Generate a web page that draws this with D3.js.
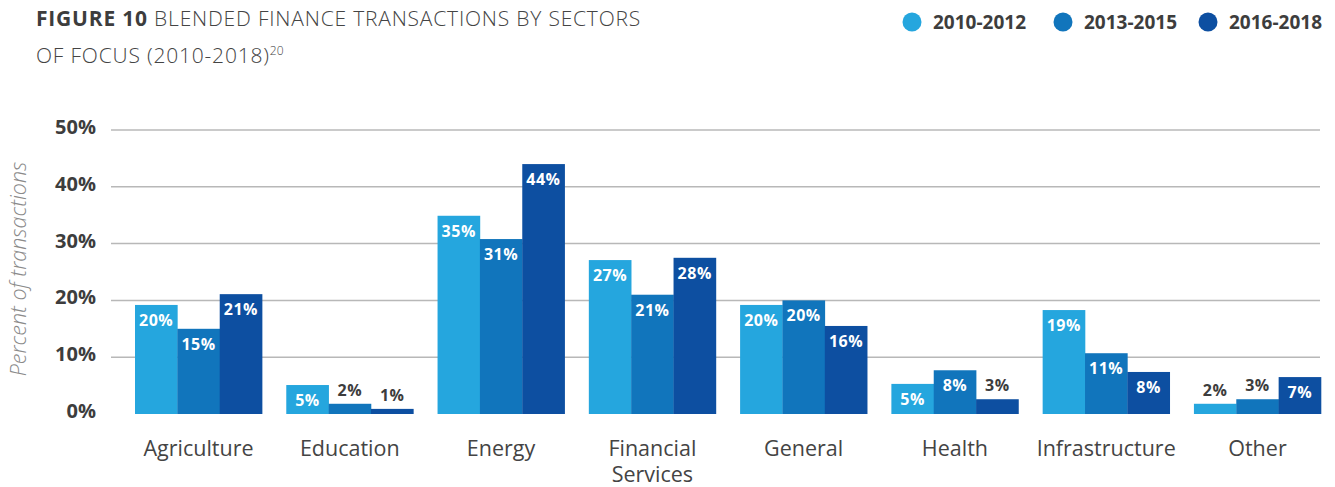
<!DOCTYPE html>
<html>
<head>
<meta charset="utf-8">
<script src="https://cdn.jsdelivr.net/npm/d3@7"></script>
<style>
  body { margin: 0; background: #fff; }
  svg { font-family: 'Open Sans', sans-serif; display: block; }
</style>
</head>
<body>
<svg id="chart" width="1335" height="487"></svg>
<script>
// Data
const sectors = ['Agriculture', 'Education', 'Energy', 'Financial Services', 'General', 'Health', 'Infrastructure', 'Other'];
const periods = ['2010-2012', '2013-2015', '2016-2018'];
const values2010 = [19.2, 5.1, 34.9, 27.1, 19.2, 5.3, 18.3, 1.8];
const values2013 = [15.0, 1.8, 30.8, 21.0, 20.0, 7.7, 10.7, 2.6];
const values2016 = [21.1, 0.9, 44.0, 27.5, 15.5, 2.6, 7.4, 6.5];
const labels2010 = ['20%', '5%', '35%', '27%', '20%', '5%', '19%', '2%'];
const labels2013 = ['15%', '2%', '31%', '21%', '20%', '8%', '11%', '3%'];
const labels2016 = ['21%', '1%', '44%', '28%', '16%', '3%', '8%', '7%'];
const yTicks = [0, 10, 20, 30, 40, 50];
const colors = ['#25a6de', '#1175bc', '#0d4fa1'];

const seriesValues = [values2010, values2013, values2016];
const seriesLabels = [labels2010, labels2013, labels2016];

const svg = d3.select('#chart');

// Scales
const x0 = d3.scaleBand().domain(sectors).range([135, 1321]).paddingInner(0.16).paddingOuter(0);
const x1 = d3.scaleBand().domain(periods).range([0, x0.bandwidth()]).padding(0);
const y = d3.scaleLinear().domain([0, 50]).range([414, 130]);
const color = d3.scaleOrdinal().domain(periods).range(colors);

// Title
const title = svg.append('text').attr('x', 36).attr('y', 26)
  .attr('font-size', 21).attr('letter-spacing', 0.8).attr('fill', '#444');
title.append('tspan').attr('font-weight', 700).attr('fill', '#3d3d3d').text('FIGURE 10');
title.append('tspan').attr('font-weight', 300).text(' BLENDED FINANCE TRANSACTIONS BY SECTORS');
const title2 = svg.append('text').attr('x', 36).attr('y', 63)
  .attr('font-size', 21).attr('letter-spacing', 0.8).attr('font-weight', 300).attr('fill', '#444');
title2.append('tspan').text('OF FOCUS (2010-2018)');
title2.append('tspan').attr('font-size', 12).attr('letter-spacing', 0).attr('dy', -8).text('20');

// Legend
const legendX = [912, 1063, 1208];
const legend = svg.append('g').selectAll('g').data(periods).join('g')
  .attr('transform', (d, i) => `translate(${legendX[i]},22)`);
legend.append('circle').attr('r', 9.5).attr('fill', d => color(d));
legend.append('text').attr('x', 21).attr('y', 7)
  .attr('font-size', 19).attr('font-weight', 700).attr('fill', '#3d3d3d')
  .text(d => d);

// Gridlines
svg.append('g').selectAll('line').data(yTicks.filter(d => d > 0)).join('line')
  .attr('x1', 111).attr('x2', 1320)
  .attr('y1', d => y(d)).attr('y2', d => y(d))
  .attr('stroke', '#b8b8b8').attr('stroke-width', 1.5);

// Y axis
const yAxis = d3.axisLeft(y).tickValues(yTicks).tickSize(0).tickPadding(0)
  .tickFormat(d => d + '%');
svg.append('g').attr('transform', 'translate(96,-3)').call(yAxis)
  .call(g => g.select('.domain').remove())
  .call(g => g.selectAll('text')
    .attr('font-family', "'Open Sans', sans-serif")
    .attr('font-size', 20).attr('font-weight', 700).attr('fill', '#3d3d3d'));

svg.append('text')
  .attr('transform', 'translate(26,269) rotate(-90)')
  .attr('text-anchor', 'middle')
  .attr('font-size', 21.5).attr('font-style', 'italic').attr('font-weight', 300)
  .attr('fill', '#8a8a8a')
  .text('Percent of transactions');

// Bars
const rows = [];
sectors.forEach((s, i) => {
  periods.forEach((p, j) => {
    rows.push({ sector: s, period: p, value: seriesValues[j][i], label: seriesLabels[j][i] });
  });
});

const bars = svg.append('g').selectAll('g').data(rows).join('g')
  .attr('transform', d => `translate(${x0(d.sector) + x1(d.period)},0)`);

bars.append('rect')
  .attr('y', d => y(d.value))
  .attr('width', x1.bandwidth() + 0.3)
  .attr('height', d => y(0) - y(d.value))
  .attr('fill', d => color(d.period));

bars.append('text')
  .attr('x', x1.bandwidth() / 2)
  .attr('y', d => d.value >= 4 ? y(d.value) + 21 : y(d.value) - 8)
  .attr('text-anchor', 'middle')
  .attr('font-size', 16).attr('font-weight', 700).attr('letter-spacing', 0.5)
  .attr('fill', d => d.value >= 4 ? '#fff' : '#3d3d3d')
  .text(d => d.label);

// Category labels
const cats = svg.append('g').selectAll('text').data(sectors).join('text')
  .attr('x', d => x0(d) + x0.bandwidth() / 2)
  .attr('y', 456)
  .attr('text-anchor', 'middle')
  .attr('font-size', 21.5).attr('fill', '#444');
cats.each(function (d) {
  const parts = d === 'Financial Services' ? ['Financial', 'Services'] : [d];
  d3.select(this).selectAll('tspan').data(parts).join('tspan')
    .attr('x', x0(d) + x0.bandwidth() / 2)
    .attr('dy', (p, i) => i === 0 ? 0 : 26)
    .text(p => p);
});
</script>
</body>
</html>
